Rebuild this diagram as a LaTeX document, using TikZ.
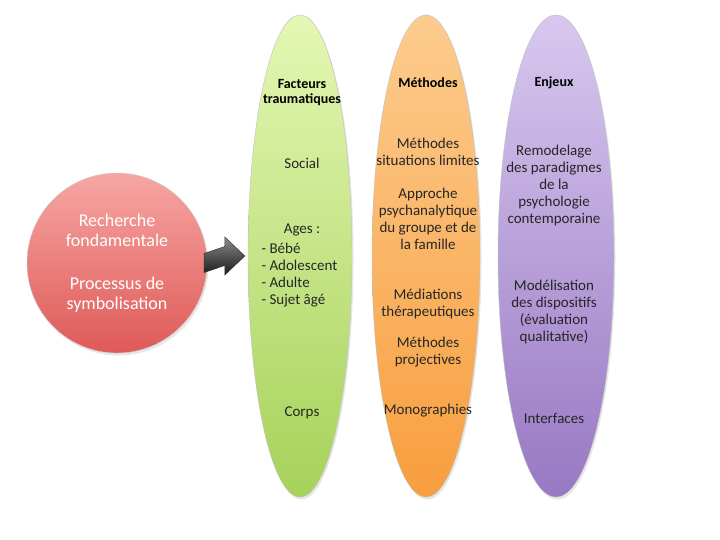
\documentclass[tikz,border=0pt]{standalone}
\usepackage{fontspec}
\setmainfont{Carlito}
\usepackage{xcolor}
\usetikzlibrary{shapes.geometric,shadows,calc}

\definecolor{rougeH}{HTML}{F7A6A4}
\definecolor{rougeB}{HTML}{DE5A57}
\definecolor{vertH}{HTML}{E4F7B4}
\definecolor{vertB}{HTML}{A6D25A}
\definecolor{orangeH}{HTML}{FCCC8E}
\definecolor{orangeB}{HTML}{F89E3E}
\definecolor{violetH}{HTML}{D8C8EF}
\definecolor{violetB}{HTML}{9878C3}

\begin{document}
\begin{tikzpicture}[x=1pt,y=-1pt,
    colonne/.style={ellipse,inner sep=0pt,minimum width=#1,minimum height=482pt,
        draw=black!25,line width=0.4pt,
        drop shadow={opacity=0.2,shadow xshift=1.5pt,shadow yshift=-2.5pt}},
    texte/.style={align=center,font=\fontsize{15}{17}\selectfont,text=black!85},
    titre/.style={align=center,font=\fontsize{14}{15}\selectfont\bfseries}]
    \useasboundingbox (0,0) rectangle (720,540);

    % les trois colonnes
    \node[colonne=104pt,top color=vertH,bottom color=vertB] (facteurs) at (300,256) {};
    \node[colonne=108pt,top color=orangeH,bottom color=orangeB] (methodes) at (426,256) {};
    \node[colonne=116pt,top color=violetH,bottom color=violetB] (enjeux) at (556,256) {};

    % le cercle
    \node[circle,minimum size=180pt,inner sep=0pt,draw=black!20,line width=0.4pt,
        top color=rougeH,bottom color=rougeB,
        drop shadow={opacity=0.2,shadow xshift=1.5pt,shadow yshift=-2.5pt},
        align=center,text=white,font=\fontsize{18}{20}\selectfont] (recherche) at (117,263)
        {Recherche\\fondamentale\\[23pt]Processus de\\symbolisation};

    % la fleche
    \coordinate (A) at ($(recherche.east)+(-3,-9.5)$);
    \coordinate (B) at ($(facteurs.west)+(-3,0)$);
    \draw[black!80,line width=0.5pt,top color=black!45,bottom color=black!90]
        (A) -- ($(B)+(-20,-9.5)$) -- ($(B)+(-20,-19)$) -- (B)
        -- ($(B)+(-20,19)$) -- ($(B)+(-20,9.5)$) -- ($(A)+(0,19)$) -- cycle;

    % Facteurs traumatiques
    \node[titre] (f0) at (302,93) {Facteurs\\traumatiques};
    \node[texte] (f1) at (302,163) {Social};
    \node[texte] (f2) at (302,230) {Ages :};
    \node[texte,align=left,anchor=north west] (f3) at (258,240) {- Bébé\\- Adolescent\\- Adulte\\- Sujet âgé};
    \node[texte] (f4) at (302,413) {Corps};

    % Méthodes
    \node[titre] (m0) at (428,83) {Méthodes};
    \node[texte] (m1) at (428,151.5) {Méthodes\\situations limites};
    \node[texte] (m2) at (428,218.5) {Approche\\psychanalytique\\du groupe et de\\la famille};
    \node[texte] (m3) at (428,304) {Médiations\\thérapeutiques};
    \node[texte] (m4) at (428,352) {Méthodes\\projectives};
    \node[texte] (m5) at (428,411) {Monographies};

    % Enjeux
    \node[titre] (e0) at (554,83) {Enjeux};
    \node[texte] (e1) at (554,186) {Remodelage\\des paradigmes\\de la\\psychologie\\contemporaine};
    \node[texte] (e2) at (554,312) {Modélisation\\des dispositifs\\(évaluation\\qualitative)};
    \node[texte] (e3) at (554,418) {Interfaces};

\end{tikzpicture}
\end{document}
